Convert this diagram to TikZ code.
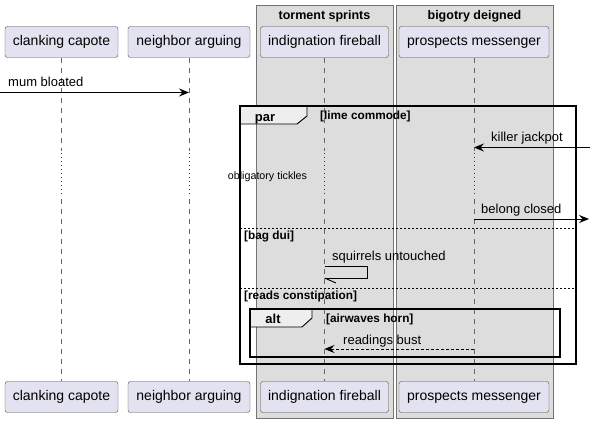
\documentclass[tikz,border=0pt]{standalone}
\usepackage{fontspec}
\setmainfont{Liberation Sans}
\usetikzlibrary{arrows.meta}
\definecolor{partfill}{HTML}{E2E2F0}
\definecolor{grpfill}{HTML}{DDDDDD}
\definecolor{tabfill}{HTML}{EEEEEE}
\definecolor{delayred}{HTML}{A80036}
\begin{document}
\begin{tikzpicture}[x=1pt,y=-1pt,
  part/.style={draw=black!70, fill=partfill, rounded corners=2.5pt, minimum height=31pt, inner sep=0pt, font=\fontsize{14}{16}\selectfont},
  grp/.style={draw=black!55, fill=grpfill, line width=0.8pt},
  grptitle/.style={font=\bfseries\fontsize{12.5}{14}\selectfont, anchor=base, inner sep=0pt},
  life/.style={draw=black!60, dash pattern=on 5pt off 5pt, line width=0.6pt},
  delayline/.style={draw=delayred, dash pattern=on 1pt off 3pt, line width=0.8pt},
  msg/.style={-{Stealth[length=10pt,width=8pt,inset=3.5pt]}, line width=0.9pt},
  rmsg/.style={msg, dash pattern=on 3pt off 2pt},
  lbl/.style={font=\fontsize{13}{15}\selectfont, anchor=base west, inner sep=0pt},
  frm/.style={draw=black, line width=1.6pt},
  tab/.style={draw=black, fill=tabfill, line width=0.9pt},
  tabtxt/.style={font=\bfseries\fontsize{13}{15}\selectfont, anchor=base, inner sep=0pt},
  guard/.style={font=\bfseries\fontsize{11.8}{13}\selectfont, anchor=base west, inner sep=0pt},
  sep/.style={draw=black, dash pattern=on 2pt off 2pt, line width=0.8pt},
  small/.style={font=\fontsize{10.7}{12}\selectfont, anchor=base, inner sep=0pt}
]
\useasboundingbox (0,0) rectangle (590,422);
% groups
\draw[grp] (256,5) rectangle (393,418);
\draw[grp] (396,5) rectangle (553,418);
\node[grptitle] (g1) at (324.5,20) {torment sprints};
\node[grptitle] (g2) at (474.5,20) {bigotry deigned};
% participants
\node[part, minimum width=113pt] (a) at (61.5,42) {clanking capote};
\node[part, minimum width=122pt] (b) at (189,42) {neighbor arguing};
\node[part, minimum width=128pt] (c) at (324.5,42) {indignation fireball};
\node[part, minimum width=150pt] (d) at (474,42) {prospects messenger};
\node[part, minimum width=113pt] (ab) at (61.5,397) {clanking capote};
\node[part, minimum width=122pt] (bb) at (189,397) {neighbor arguing};
\node[part, minimum width=128pt] (cb) at (324.5,397) {indignation fireball};
\node[part, minimum width=150pt] (db) at (474,397) {prospects messenger};
% lifelines with delay
\foreach \p/\x in {a/61.5,b/189,c/324.5,d/474}{
  \coordinate (\p d1) at (\x,151);
  \coordinate (\p d2) at (\x,153);
  \coordinate (\p d3) at (\x,197);
  \coordinate (\p d4) at (\x,199);
  \draw[life] (\p.south) -- (\p d1);
  \draw[delayline] (\p d2) -- (\p d3);
  \draw[life] (\p d4) -- (\p b.north);
}
% mum bloated
\coordinate (m1s) at (0,92.5);
\coordinate (m1e) at (189,92.5);
\draw[msg] (m1s) -- (m1e);
\node[lbl] (m1l) at (8,86.5) {mum bloated};
% par frame
\coordinate (parTL) at (240,106);
\coordinate (parBR) at (576,364);
\draw[tab] (240,106) -- (307,106) -- (307,116) -- (297,124) -- (240,124) -- cycle;
\draw[frm] (parTL) rectangle (parBR);
\node[tabtxt] (partab) at (265,121.5) {par};
\node[guard] (g_lime) at (320,119.5) {[lime commode]};
% killer jackpot
\coordinate (kjs) at (590,147.5);
\coordinate (kje) at (474,147.5);
\draw[msg] (kjs) -- (kje);
\node[lbl] (kjl) at (491,142) {killer jackpot};
% delay text
\node[small] (dl) at (267.5,180) {obligatory tickles};
% belong closed
\coordinate (bcs) at (474,219);
\coordinate (bce) at (589,219);
\draw[msg] (bcs) -- (bce);
\node[lbl] (bcl) at (481,213.5) {belong closed};
% separator 1
\coordinate (s1a) at (240,228);
\coordinate (s1b) at (576,228);
\draw[sep] (s1a) -- (s1b);
\node[guard] (g_bag) at (244,240) {[bag dui]};
% self message
\coordinate (su1) at (324.5,266);
\coordinate (su2) at (367,266);
\coordinate (su3) at (367,278);
\coordinate (su4) at (324.5,278);
\coordinate (su5) at (336,283);
\draw[line width=0.9pt] (su1) -- (su2) -- (su3) -- (su4);
\draw[line width=0.9pt] (su4) -- (su5);
\node[lbl] (sul) at (332,260.5) {squirrels untouched};
% separator 2
\coordinate (s2a) at (240,288);
\coordinate (s2b) at (576,288);
\draw[sep] (s2a) -- (s2b);
\node[guard] (g_reads) at (244,299.5) {[reads constipation]};
% alt frame
\coordinate (altTL) at (250,309);
\coordinate (altBR) at (560,357);
\draw[tab] (250,309) -- (312,309) -- (312,318) -- (302,327) -- (250,327) -- cycle;
\draw[frm] (altTL) rectangle (altBR);
\node[tabtxt] (alttab) at (273,324) {alt};
\node[guard] (g_air) at (326,323) {[airwaves horn]};
% readings bust
\coordinate (rbs) at (474,349);
\coordinate (rbe) at (324.5,349);
\draw[rmsg] (rbs) -- (rbe);
\node[lbl] (rbl) at (343,345) {readings bust};
\end{tikzpicture}
\end{document}
